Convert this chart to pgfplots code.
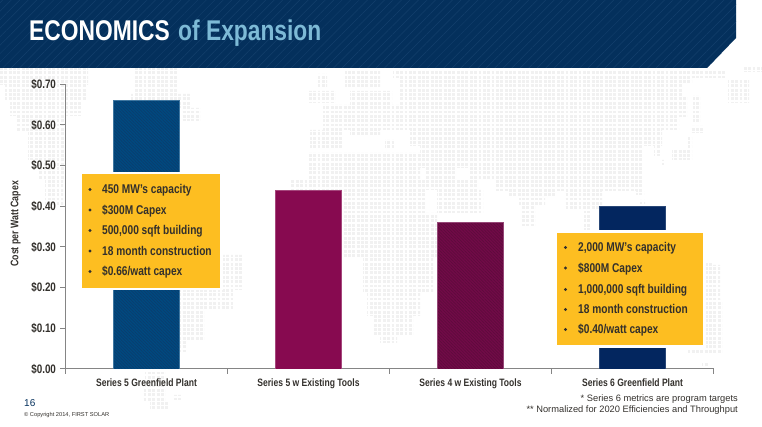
\documentclass[border=0pt]{standalone}
\usepackage{fontspec}
\setmainfont[FakeStretch=0.8]{Liberation Sans}
\newfontfamily\wide{Liberation Sans}
\usepackage{pgfplots}
\pgfplotsset{compat=1.18}
\usetikzlibrary{patterns.meta}
\definecolor{banner}{HTML}{04305C}
\definecolor{stripe}{HTML}{133F6C}
\definecolor{sky}{HTML}{7DBAD6}
\definecolor{boxy}{HTML}{FDBE21}
\definecolor{ink}{HTML}{33302C}
\definecolor{dots}{HTML}{F1F1F1}
\definecolor{axisgray}{HTML}{858585}
\definecolor{barA}{HTML}{004A80}
\definecolor{barAh}{HTML}{0A3D6E}
\definecolor{barB}{HTML}{870A50}
\definecolor{barC}{HTML}{720A48}
\definecolor{barCh}{HTML}{5E0C3C}
\definecolor{barD}{HTML}{03265F}
\newcommand{\bl}[2]{%
  \node[anchor=base west,text=ink,font=\fontsize{12.7}{13}\selectfont\bfseries,inner sep=0pt] at (#1) {#2};}
\begin{document}
\begin{tikzpicture}
\useasboundingbox (0,0) rectangle (762pt,427pt);
% ---------- dotted world map ----------
\begin{scope}[x=1pt,y=-1pt,yshift=427pt]
\begin{scope}
\clip
 % North America
 (0,68) rectangle (88,85) (5,85) rectangle (86,100) (10,100) rectangle (82,116)
 (16,116) rectangle (66,132) (28,132) rectangle (66,160) (38,160) rectangle (66,180) (45,180) rectangle (63,205)
 % Greenland
 (133,68) rectangle (177,94) (130,94) rectangle (190,108) (182,108) rectangle (200,121)
 % South America
 (222,255) rectangle (243,290) (180,290) rectangle (233,311) (180,311) rectangle (204,340) (180,340) rectangle (186,352)
 (145,370) rectangle (165,388) (143,388) rectangle (165,402) (150,402) rectangle (168,410) (174,395) rectangle (181,400)
 % Europe
 (318,74) rectangle (327,88) (345,71) rectangle (380,88) (307,91) rectangle (335,103)
 (350,91) rectangle (392,105) (323,105) rectangle (410,130) (310,130) rectangle (343,150)
 (350,130) rectangle (380,136) (385,140) rectangle (395,150)
 % Africa
 (307,153) rectangle (420,180) (290,180) rectangle (425,213) (342,213) rectangle (437,258)
 (363,258) rectangle (433,293) (367,293) rectangle (420,316) (373,316) rectangle (413,335) (380,335) rectangle (397,343)
 % Asia
 (393,71) rectangle (725,78) (400,78) rectangle (692,83) (400,83) rectangle (682,97) (400,97) rectangle (687,117)
 (410,117) rectangle (679,130) (410,130) rectangle (662,146) (420,146) rectangle (642,168)
 (425,168) rectangle (455,180) (470,168) rectangle (642,180) (425,180) rectangle (478,190) (495,180) rectangle (642,191)
 (437,190) rectangle (483,213) (509,191) rectangle (555,198) (519,198) rectangle (545,206) (522,206) rectangle (535,226)
 (565,191) rectangle (602,210) (584,210) rectangle (590,230) (636,191) rectangle (644,195) (640,200) rectangle (645,204)
 % Japan, Kamchatka
 (693,96) rectangle (700,122) (690,126) rectangle (703,133) (688,136) rectangle (692,156) (672,149) rectangle (692,160)
 (654,146) rectangle (660,156) (662,160) rectangle (665,165) (728,80) rectangle (749,103) (742,66) rectangle (762,72)
 % Indonesia, Australia
 (605,222) rectangle (645,232) (706,263) rectangle (712,277) (612,265) rectangle (720,300)
 (688,300) rectangle (722,353) (702,362) rectangle (708,367);
\foreach \r in {0,...,78}
  \draw[dots,line width=2.9pt,dash pattern=on 2.9pt off 1.45pt] (0,{68.5+4.35*\r}) -- (762,{68.5+4.35*\r});
\end{scope}
\end{scope}
% ---------- chart ----------
\begin{axis}[
  at={(65.5pt,58pt)},anchor=south west,
  scale only axis,width=648pt,height=284.7pt,
  xmin=-0.5,xmax=3.5,ymin=0,ymax=0.7,
  axis x line*=bottom,axis y line*=left,
  axis line style={axisgray,line width=1pt,-},
  tick style={axisgray,line width=1pt},
  tick align=outside,
  major tick length=5pt,minor tick length=5pt,
  xtick={0,1,2,3},major x tick style={draw=none},
  minor xtick={-0.5,0.5,1.5,2.5,3.5},
  xticklabels={Series 5 Greenfield Plant,Series 5 w Existing Tools,Series 4 w Existing Tools,Series 6 Greenfield Plant},
  ytick={0,0.1,0.2,0.3,0.4,0.5,0.6,0.7},
  yticklabels={\$0.00,\$0.10,\$0.20,\$0.30,\$0.40,\$0.50,\$0.60,\$0.70},
  x tick label style={font=\fontsize{10.7}{12}\selectfont\bfseries,text=ink,yshift=-1pt},
  y tick label style={font=\fontsize{12.3}{13}\selectfont\bfseries,text=ink,xshift=-1pt},
  ylabel={Cost per Watt Capex},
  every axis y label/.style={at={(axis description cs:-0.077,0.51)},rotate=90,anchor=center,font=\fontsize{11}{12}\selectfont\bfseries,text=ink},
  ybar,bar shift=0pt,bar width=66.5pt,
]
\addplot[draw=barA!75!white,fill=barA,line width=.6pt,postaction={pattern={Lines[angle=-45,distance=2.2pt,line width=.7pt]},pattern color=barAh}] coordinates {(0,0.66)};
\addplot[draw=barB!75!white,fill=barB,line width=.6pt] coordinates {(1,0.44)};
\addplot[draw=barC!75!white,fill=barC,line width=.6pt,postaction={pattern={Lines[angle=-45,distance=2.2pt,line width=.7pt]},pattern color=barCh}] coordinates {(2,0.36)};
\addplot[draw=barD!85!white,fill=barD,line width=.6pt] coordinates {(3,0.40)};
\end{axis}
% ---------- overlays ----------
\begin{scope}[x=1pt,y=-1pt,yshift=427pt]
\fill[banner] (0,0) -- (736,0) -- (736,38) -- (707,68) -- (0,68) -- cycle;
\fill[pattern={Lines[angle=45,distance=6pt,line width=.5pt]},pattern color=stripe] (0,0) -- (736,0) -- (736,38) -- (707,68) -- (0,68) -- cycle;
\node[anchor=base west,inner sep=0pt,font=\fontsize{28.5}{29}\selectfont\bfseries,text=white] at (29,41) {ECONOMICS};
\node[anchor=base west,inner sep=0pt,font=\fontsize{28.5}{29}\selectfont\bfseries,text=sky] at (178,41) {of Expansion};
% boxes
\fill[white] (79.5,172) rectangle (222.5,290.5);
\fill[boxy] (82,174.5) rectangle (220,288.5);
\fill[white] (554.5,230) rectangle (705.5,348);
\fill[boxy] (557,232.7) rectangle (703,345);
\foreach \y/\t in {194/{450 MW's capacity},214.5/{\$300M Capex},235/{500,000 sqft building},255.5/{18 month construction},276/{\$0.66{/}watt capex}}{
  \fill[ink] (90,\y-4.5) circle (1.6);
  \bl{102,\y}{\t}
}
\foreach \y/\t in {252/{2,000 MW's capacity},272.5/{\$800M Capex},294/{1,000,000 sqft building},314/{18 month construction},334/{\$0.40{/}watt capex}}{
  \fill[ink] (565.5,\y-4.5) circle (1.6);
  \bl{578,\y}{\t}
}
% footers
\node[anchor=base east,inner sep=0pt,font=\wide\fontsize{9.3}{10}\selectfont,text=ink] at (738,401.5) {* Series 6 metrics are program targets};
\node[anchor=base east,inner sep=0pt,font=\wide\fontsize{9.3}{10}\selectfont,text=ink] at (738,412.5) {** Normalized for 2020 Efficiencies and Throughput};
\node[anchor=base west,inner sep=0pt,font=\wide\fontsize{10}{10}\selectfont,text=banner] at (24,407) {16};
\node[anchor=base west,inner sep=0pt,font=\wide\fontsize{5.7}{6}\selectfont,text=ink] at (24,416.5) {© Copyright 2014, FIRST SOLAR};
\end{scope}
\end{tikzpicture}
\end{document}
